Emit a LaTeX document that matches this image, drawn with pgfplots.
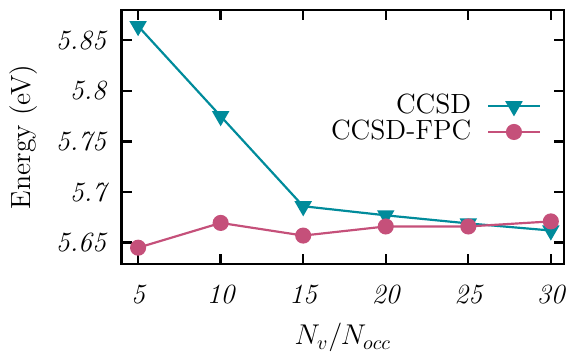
\documentclass[border=0pt]{standalone}
\usepackage{pgfplots}
\pgfplotsset{compat=1.18}
\definecolor{cteal}{RGB}{0,139,155}
\definecolor{cpink}{RGB}{197,80,122}
\begin{document}
\begin{tikzpicture}
\fontsize{14}{16}\selectfont
\begin{axis}[
  scale only axis,
  width=223pt, height=128pt,
  xmin=4, xmax=30.8,
  ymin=5.629, ymax=5.88,
  xtick={5,10,15,20,25,30},
  ytick={5.65,5.7,5.75,5.8,5.85},
  tick align=inside,
  major tick length=5pt,
  axis line style={line width=1.4pt},
  every tick/.style={line width=1.2pt, black},
  /pgf/number format/assume math mode=true,
  ticklabel style={font=\fontsize{14}{16}\selectfont\itshape},
  yticklabel style={/pgf/number format/fixed, /pgf/number format/precision=2, xshift=-3pt},
  xticklabel style={yshift=-6pt},
  xlabel={$N_v/N_{occ}$},
  ylabel={Energy (eV)},
  label style={font=\fontsize{14}{16}\selectfont},
  legend style={draw=none, fill=none, at={(0.944,0.57)}, anchor=east, xshift=4pt,
    legend cell align=right, row sep=-3pt, font=\fontsize{14}{16}\selectfont,
    /tikz/every odd column/.append style={column sep=6pt}},
  legend plot pos=right,
  legend image code/.code={\draw[mark repeat=2,mark phase=2] plot coordinates {(0pt,0pt)(13pt,0pt)(26pt,0pt)};},
]
\addplot[cteal, line width=1.1pt, mark=triangle*, mark size=4pt, mark options={rotate=180, solid}]
  coordinates {(5,5.864) (10,5.775) (15,5.686) (20,5.677) (25,5.669) (30,5.662)};
\addlegendentry{CCSD}
\addplot[cpink, line width=1.1pt, mark=*, mark size=3.5pt, mark options={solid}]
  coordinates {(5,5.645) (10,5.6695) (15,5.657) (20,5.666) (25,5.666) (30,5.671)};
\addlegendentry{CCSD-FPC}
\end{axis}
\path ([yshift=5pt]current axis.north) ([xshift=3pt]current axis.east);
\end{tikzpicture}
\end{document}
